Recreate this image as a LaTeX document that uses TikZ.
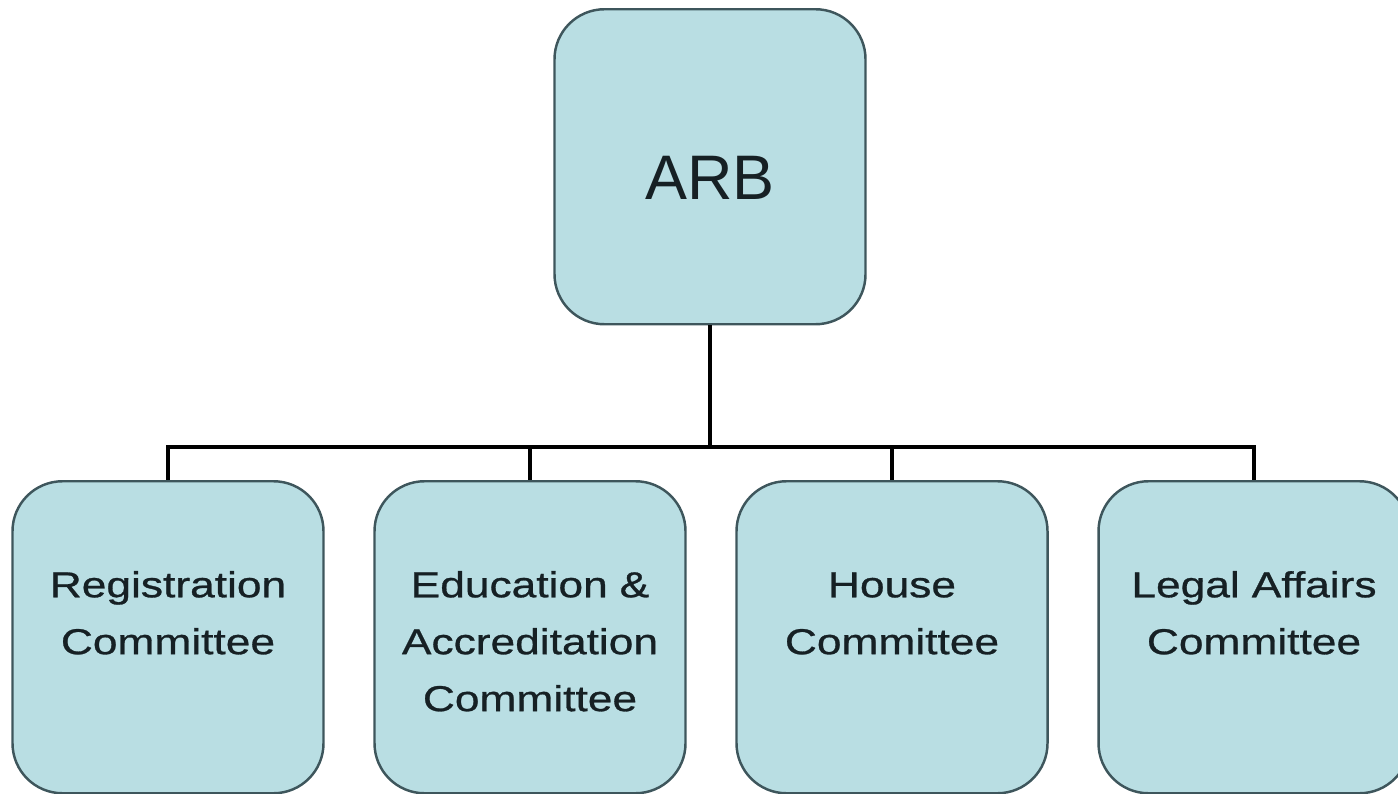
\documentclass[tikz,border=0pt]{standalone}
\usepackage{fontspec}
\setmainfont{Liberation Sans}
\newfontfamily\widefont[FakeStretch=1.23,FakeBold=0.8]{Liberation Sans}
\definecolor{boxfill}{RGB}{185,222,227}
\definecolor{boxline}{RGB}{62,86,92}
\definecolor{boxtext}{RGB}{22,32,36}
\begin{document}
\begin{tikzpicture}[%
% common options for the boxes:
box/.style = {rectangle, draw=boxline, line width=0.7pt, fill=boxfill,
            rounded corners=0.5cm, align=center, anchor=north,
            text width=3.11cm, inner sep=0, text=boxtext},
% the committees:
unit/.style = {box, text height=1.16cm, text depth=1.96cm,
            font=\widefont\fontsize{10.25}{16.2}\selectfont},
% connectors:
link/.style = {draw=black, line width=1.15pt}]
\useasboundingbox (0,0) rectangle (13.98,-7.93);
\node[box, text height=1.90cm, text depth=1.25cm,
      font=\fontsize{17.9}{20}\selectfont] (T0) at (7.10,-0.08) {ARB};
\node[unit] (C1) at (1.68,-4.80) {Registration\\Committee};
\node[unit] (C2) at (5.30,-4.80) {Education \&\\Accreditation\\Committee};
\node[unit] (C3) at (8.92,-4.80) {House\\Committee};
\node[unit] (C4) at (12.54,-4.80) {Legal Affairs\\Committee};
\coordinate (bus) at (7.10,-4.47);
\draw[link] (T0.south) -- (bus);
\draw[link] (bus) -| (C1.north);
\draw[link] (bus) -| (C2.north);
\draw[link] (bus) -| (C3.north);
\draw[link] (bus) -| (C4.north);
\end{tikzpicture}
\end{document}
